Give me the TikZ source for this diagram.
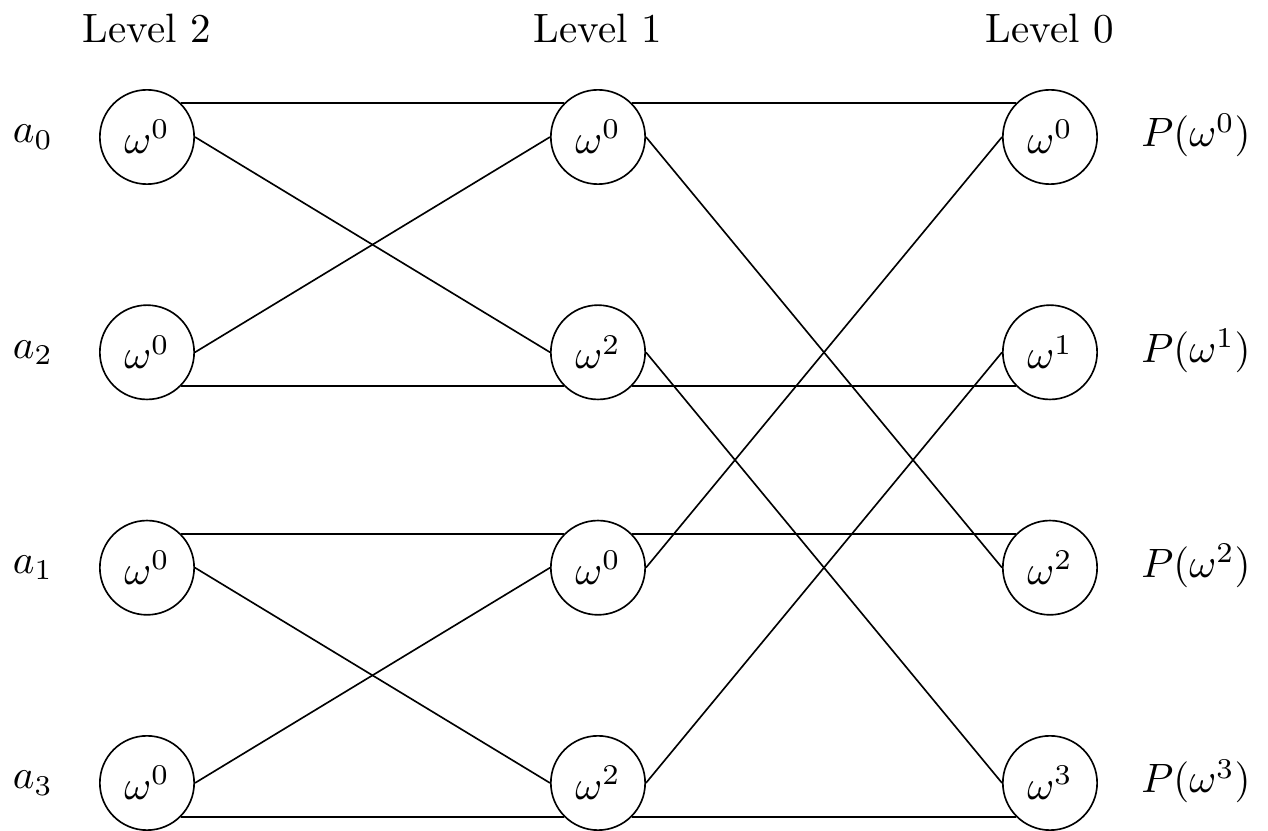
\documentclass[tikz,border=0pt]{standalone}
\begin{document}
\begin{tikzpicture}[x=0.2439pt,y=-0.2439pt,
  nd/.style={draw,circle,minimum size=23pt,inner sep=0pt},
  lbl/.style={anchor=base,inner sep=0pt}]
\useasboundingbox (0,0) rectangle (1268,831);
% column headers
\node[lbl] (h2) at (147,43) {Level 2};
\node[lbl] (h1) at (598,43) {Level 1};
\node[lbl] (h0) at (1050,43) {Level 0};
% level 2
\node[nd] (A0) at (147,137) {$\omega^0$};
\node[nd] (A1) at (147,352.3) {$\omega^0$};
\node[nd] (A2) at (147,567.7) {$\omega^0$};
\node[nd] (A3) at (147,783) {$\omega^0$};
% level 1
\node[nd] (B0) at (598,137) {$\omega^0$};
\node[nd] (B1) at (598,352.3) {$\omega^2$};
\node[nd] (B2) at (598,567.7) {$\omega^0$};
\node[nd] (B3) at (598,783) {$\omega^2$};
% level 0
\node[nd] (C0) at (1050,137) {$\omega^0$};
\node[nd] (C1) at (1050,352.3) {$\omega^1$};
\node[nd] (C2) at (1050,567.7) {$\omega^2$};
\node[nd] (C3) at (1050,783) {$\omega^3$};
% left labels
\node[lbl] (a0) at (33,143) {$a_0$};
\node[lbl] (a2) at (33,358.3) {$a_2$};
\node[lbl] (a1) at (33,573.7) {$a_1$};
\node[lbl] (a3) at (33,789) {$a_3$};
% right labels
\node[lbl] (p0) at (1196,147) {$P(\omega^0)$};
\node[lbl] (p1) at (1196,362.3) {$P(\omega^1)$};
\node[lbl] (p2) at (1196,577.7) {$P(\omega^2)$};
\node[lbl] (p3) at (1196,793) {$P(\omega^3)$};
% level 2 -> level 1
\draw (A0.north east) -- (B0.north west);
\draw (A0.east) -- (B1.west);
\draw (A1.east) -- (B0.west);
\draw (A1.south east) -- (B1.south west);
\draw (A2.north east) -- (B2.north west);
\draw (A2.east) -- (B3.west);
\draw (A3.east) -- (B2.west);
\draw (A3.south east) -- (B3.south west);
% level 1 -> level 0
\draw (B0.north east) -- (C0.north west);
\draw (B0.east) -- (C2.west);
\draw (B1.east) -- (C3.west);
\draw (B1.south east) -- (C1.south west);
\draw (B2.north east) -- (C2.north west);
\draw (B2.east) -- (C0.west);
\draw (B3.east) -- (C1.west);
\draw (B3.south east) -- (C3.south west);
\end{tikzpicture}
\end{document}
